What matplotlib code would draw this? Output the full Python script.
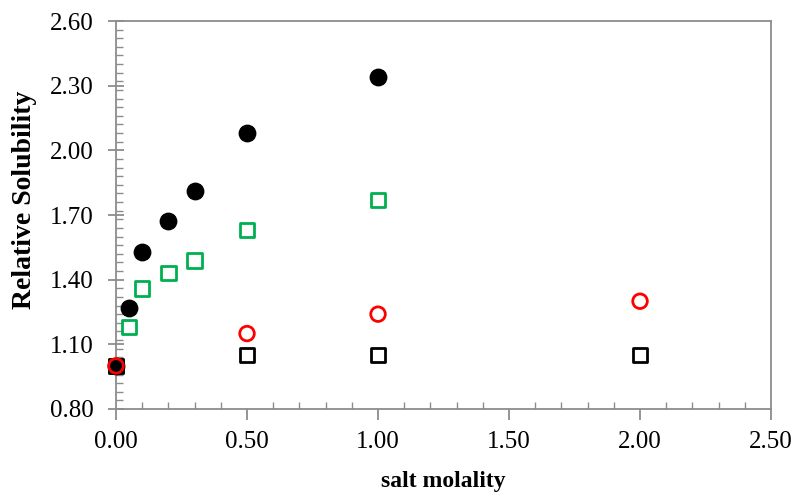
import numpy as np
import matplotlib.pyplot as plt
from matplotlib.ticker import MultipleLocator, FixedLocator

plt.rcParams['font.family'] = ['Liberation Serif', 'DejaVu Serif']

# Data
black_circ_x = [0.0, 0.05, 0.1, 0.2, 0.3, 0.5, 1.0]
black_circ_y = [1.00, 1.27, 1.53, 1.67, 1.81, 2.08, 2.34]

green_sq_x = [0.0, 0.05, 0.1, 0.2, 0.3, 0.5, 1.0]
green_sq_y = [1.00, 1.18, 1.36, 1.43, 1.49, 1.63, 1.77]

red_circ_x = [0.0, 0.5, 1.0, 2.0]
red_circ_y = [1.00, 1.15, 1.24, 1.30]

black_sq_x = [0.0, 0.5, 1.0, 2.0]
black_sq_y = [1.00, 1.05, 1.05, 1.05]

y_ticks = [0.8, 1.1, 1.4, 1.7, 2.0, 2.3, 2.6]

fig = plt.figure(figsize=(7.99, 4.92), dpi=100)
ax = fig.add_axes([0.1452, 0.1687, 0.8198, 0.7886])

ax.scatter(green_sq_x, green_sq_y, marker='s', s=110, facecolors='none',
           edgecolors='#00b050', linewidths=2, zorder=3, clip_on=False)
ax.scatter(black_sq_x, black_sq_y, marker='s', s=110, facecolors='none',
           edgecolors='black', linewidths=2, zorder=4, clip_on=False)
ax.scatter(black_circ_x, black_circ_y, marker='o', s=140, color='black',
           zorder=5, clip_on=False)
ax.scatter(red_circ_x, red_circ_y, marker='o', s=110, facecolors='none',
           edgecolors='red', linewidths=2, zorder=6, clip_on=False)

ax.set_xlim(0, 2.5)
ax.set_ylim(0.8, 2.6)
ax.xaxis.set_major_locator(MultipleLocator(0.5))
ax.xaxis.set_minor_locator(MultipleLocator(0.1))
ax.yaxis.set_major_locator(FixedLocator(y_ticks))
ax.yaxis.set_minor_locator(FixedLocator(np.arange(0.8, 2.6001, 0.04)))
ax.xaxis.set_major_formatter(lambda v, p: '{:.2f}'.format(v))
ax.yaxis.set_major_formatter(lambda v, p: '{:.2f}'.format(v))

gray = '#8c8c8c'
for s in ax.spines.values():
    s.set_color(gray)
    s.set_linewidth(1.3)

ax.tick_params(axis='both', which='major', direction='out', length=8,
               width=1.3, color=gray, labelsize=18, pad=8)
ax.tick_params(axis='both', which='minor', direction='in', length=5,
               width=1.0, color=gray)
ax.tick_params(axis='y', which='major', direction='inout', length=12, pad=10)

ax.set_xlabel('salt molality', fontsize=17, fontweight='bold', labelpad=13)
ax.set_ylabel('Relative Solubility', fontsize=20, fontweight='bold')
ax.yaxis.set_label_coords(-0.121, 0.54)

fig.savefig('out.png', dpi=100)
